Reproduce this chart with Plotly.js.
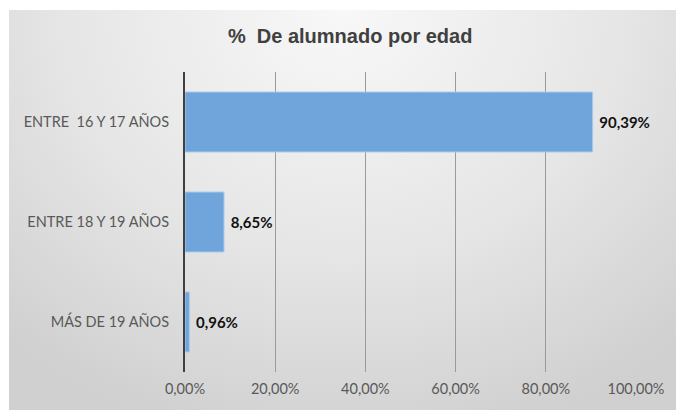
<!DOCTYPE html>
<html>
<head>
<meta charset="utf-8">
<script src="https://cdn.plot.ly/plotly-3.0.1.min.js"></script>
<style>
  html, body { margin: 0; padding: 0; background: #ffffff; }
  #chart {
    width: 676px; height: 410px;
    background-color: #ffffff;
    background-image: radial-gradient(ellipse 75% 110% at 50% 0%, #f8f8f8 0%, #e6e6e6 55%, #d0d0d0 100%);
    background-repeat: no-repeat;
    background-position: 9px 10px;
    background-size: 667px 400px;
  }
</style>
</head>
<body>
<div id="chart"></div>
<script>
const categories = ["ENTRE\u00a0 16 Y 17 AÑOS", "ENTRE 18 Y 19 AÑOS", "MÁS DE 19 AÑOS"];
const values = [0.9039, 0.0865, 0.0096];
const tickValues = [0, 0.2, 0.4, 0.6, 0.8, 1.0];
const titleText = "%\u00a0 De alumnado por edad";

const trace = {
  type: "bar",
  orientation: "h",
  y: categories,
  x: values,
  width: 0.6,
  marker: { color: "#6fa5db", line: { color: "#a9cbee", width: 1 } },
  texttemplate: "\u00a0%{x:.2%}",
  textposition: "outside",
  cliponaxis: false,
  textfont: { family: "Lato, 'Open Sans', sans-serif", size: 15, color: "#111111", weight: "bold" },
  hoverinfo: "none"
};

const layout = {
  width: 676, height: 410,
  paper_bgcolor: "rgba(0,0,0,0)",
  plot_bgcolor: "rgba(0,0,0,0)",
  separators: ",.",
  margin: { l: 185, r: 40, t: 72, b: 38 },
  showlegend: false,
  bargap: 0.4,
  title: {
    text: titleText,
    x: 0.518, xref: "container", xanchor: "center",
    y: 39, yref: "container", yanchor: "middle",
    font: { family: "'Liberation Sans', Arial, sans-serif", size: 20, color: "#404040", weight: "bold" }
  },
  xaxis: {
    range: [0, 1.0],
    tickvals: tickValues,
    tickformat: ".2%",
    showgrid: true,
    gridcolor: "#9a9a9a",
    gridwidth: 1,
    zeroline: false,
    showline: false,
    ticks: "",
    ticklabelstandoff: 6,
    tickfont: { family: "Lato, 'Open Sans', sans-serif", size: 14.5, color: "#595959" },
    fixedrange: true
  },
  yaxis: {
    autorange: "reversed",
    showgrid: false,
    zeroline: false,
    showline: true,
    linecolor: "#404040",
    linewidth: 2,
    ticks: "",
    ticklabelstandoff: 11,
    tickfont: { family: "Lato, 'Open Sans', sans-serif", size: 14.5, color: "#595959" },
    fixedrange: true
  }
};

Plotly.newPlot("chart", [trace], layout, { displayModeBar: false, staticPlot: true });
</script>
</body>
</html>
